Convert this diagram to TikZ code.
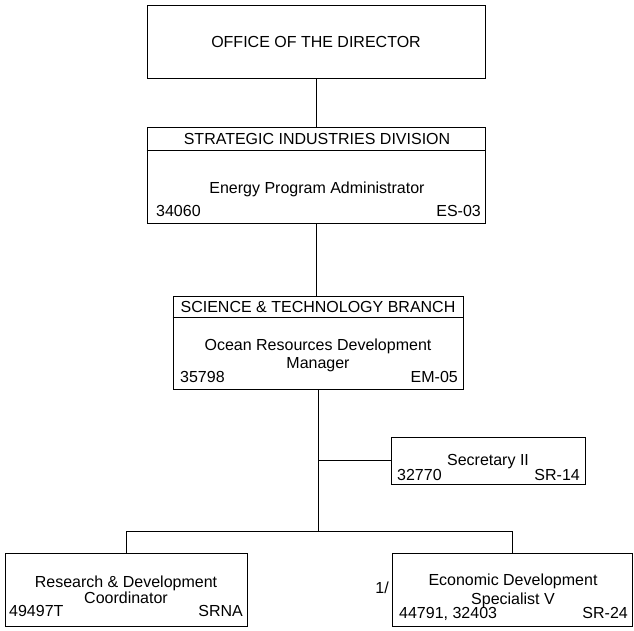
\documentclass[tikz,border=0pt]{standalone}
\usepackage{fontspec}
\setmainfont{Liberation Sans}
\begin{document}
\begin{tikzpicture}[x=1pt, y=-1pt, font=\fontsize{16}{18}\selectfont,
    box/.style={draw, line width=1pt, inner sep=0pt},
    link/.style={line width=0.8pt},
    txt/.style={inner sep=0pt, anchor = mid, yshift=-3pt}]
  \useasboundingbox (0, 0) rectangle (634, 630);
  % boxes
  \node [box, minimum width=338, minimum height=73] (dir) at (316, 41.5) {OFFICE OF THE DIRECTOR};
  \node [box, minimum width=338, minimum height=96] (div) at (316, 175) {};
  \node [box, minimum width=290, minimum height=93] (sci) at (318, 342.5) {};
  \node [box, minimum width=194, minimum height=47] (sec) at (488, 460.5) {};
  \node [box, minimum width=242, minimum height=73] (rdc) at (126, 589.5) {};
  \node [box, minimum width=240, minimum height=73] (eds) at (512, 589.5) {};
  \draw [line width=1pt] ([yshift=-24pt]div.north west) -- ([yshift=-24pt]div.north east);
  \draw [line width=1pt] ([yshift=-22pt]sci.north west) -- ([yshift=-22pt]sci.north east);
  % texts
  \node [txt] (divhead) at (317, 139) {STRATEGIC INDUSTRIES DIVISION};
  \node [txt] (divpos) at (317, 188) {Energy Program Administrator};
  \node [txt, anchor = mid west] (divno) at (156, 211) {34060};
  \node [txt, anchor = mid east] (divgr) at (481, 211) {ES-03};
  \node [txt] (scihead) at (318, 307) {SCIENCE \& TECHNOLOGY BRANCH};
  \node [txt] (scipos) at (318, 345) {Ocean Resources Development};
  \node [txt] (scipos2) at (318, 363) {Manager};
  \node [txt, anchor = mid west] (scino) at (180, 377) {35798};
  \node [txt, anchor = mid east] (scigr) at (458, 377) {EM-05};
  \node [txt] (secpos) at (488, 460) {Secretary II};
  \node [txt, anchor = mid west] (secno) at (397, 475) {32770};
  \node [txt, anchor = mid east] (secgr) at (580, 475) {SR-14};
  \node [txt] (rdcpos) at (126, 582) {Research \& Development};
  \node [txt] (rdcpos2) at (126, 598) {Coordinator};
  \node [txt, anchor = mid west] (rdcno) at (9, 611) {49497T};
  \node [txt, anchor = mid east] (rdcgr) at (243, 611) {SRNA};
  \node [txt] (edspos) at (513, 580) {Economic Development};
  \node [txt] (edspos2) at (513, 599) {Specialist V};
  \node [txt, anchor = mid west] (edsno) at (399, 613) {44791, 32403};
  \node [txt, anchor = mid east] (edsgr) at (628, 613) {SR-24};
  \node [txt, anchor = mid east] (note) at (389, 588) {1/};
  % connectors
  \coordinate (hub) at (318, 531);
  \draw [link] (dir.south) -- (div.north);
  \draw [link] (div.south) -- (div.south |- sci.north);
  \draw [link] (sci.south) -- (hub);
  \draw [link] (sci.south |- sec.west) -- (sec.west);
  \draw [link] (rdc.north) |- (hub) -| (eds.north);
\end{tikzpicture}
\end{document}
